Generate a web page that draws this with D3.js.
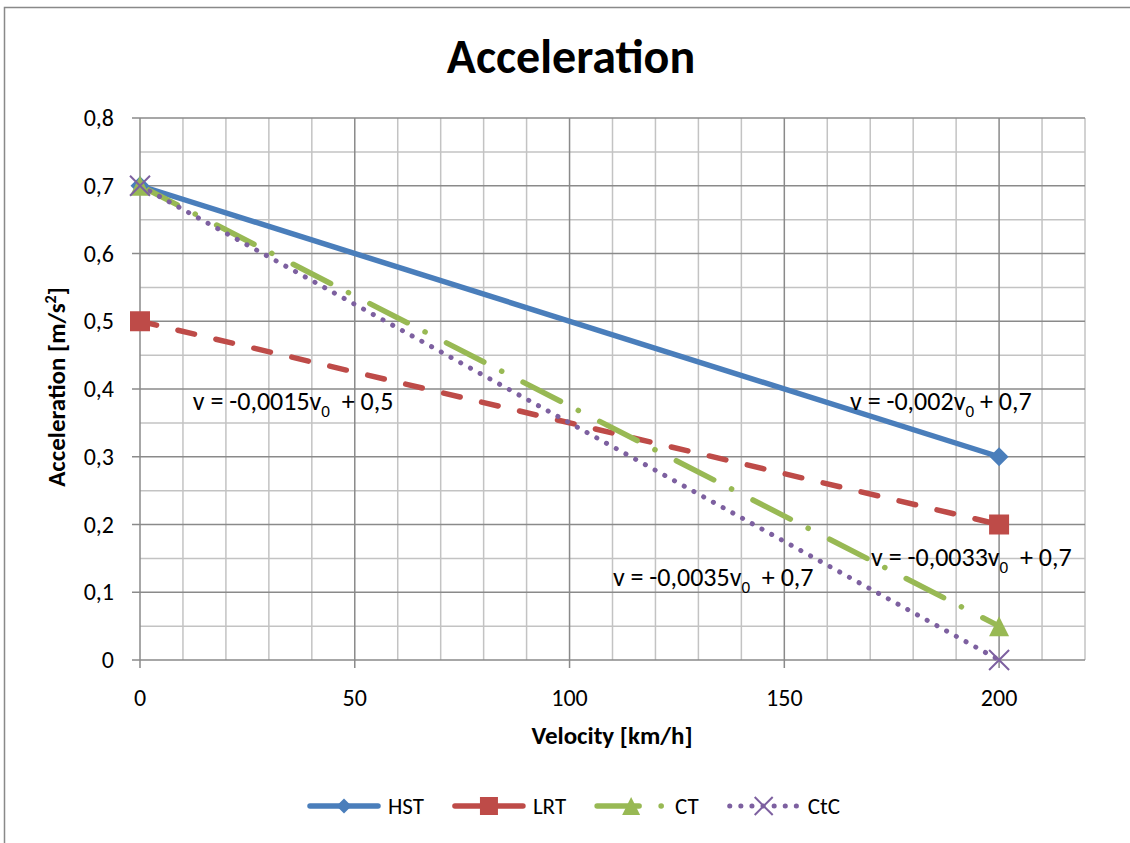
<!DOCTYPE html>
<html>
  <head>
    <meta charset="utf-8">
    <title>Acceleration</title>
    <style>
      body { margin: 0; background: #fff; }
      svg { display: block; font-family: "Carlito", "Lato", sans-serif; }
      .tick-label { font-size: 24px; fill: #000; }
      .axis-title { font-size: 25px; font-weight: bold; fill: #000; }
      .ann { font-size: 26px; fill: #000; }
      .legend-label { font-size: 23px; fill: #000; }
    </style>
  </head>
  <body>
    <div id="chart"></div>
    <script src="https://cdn.jsdelivr.net/npm/d3@7/dist/d3.min.js"></script>
    <script>
    var width = 1130;
    var height = 843;

    // data
    var velocity = [0, 200];
    var hst = [0.7, 0.3];
    var lrt = [0.5, 0.2];
    var ct = [0.7, 0.05];
    var ctc = [0.7, 0];
    var seriesNames = ["HST", "LRT", "CT", "CtC"];
    var xTicks = [0, 50, 100, 150, 200];
    var yTicks = [0, 0.1, 0.2, 0.3, 0.4, 0.5, 0.6, 0.7, 0.8];
    var equations = [
      { pre: "v = -0,002v", post: " + 0,7", x: 165.3, y: 0.369 },
      { pre: "v = -0,0015v", post: "  + 0,5", x: 12.3, y: 0.369 },
      { pre: "v = -0,0033v", post: "  + 0,7", x: 170.2, y: 0.139 },
      { pre: "v = -0,0035v", post: "  + 0,7", x: 110.1, y: 0.109 }
    ];

    var styles = {
      HST: { color: "#4a7ebb", dash: null, w: 5.5, marker: "diamond", ms: 19, legDash: null },
      LRT: { color: "#be4b48", dash: "17,22", w: 5.5, marker: "square", ms: 20, legDash: null },
      CT:  { color: "#98b954", dash: "42,20,0.1,24", w: 5.5, marker: "triangle", ms: 20, legDash: "42,22,0.1,40" },
      CtC: { color: "#7d60a0", dash: "0.1,11", w: 5, marker: "cross", ms: 20, legDash: "0.1,11" }
    };
    var seriesValues = { HST: hst, LRT: lrt, CT: ct, CtC: ctc };

    var svg = d3.select("#chart").append("svg")
        .attr("width", width)
        .attr("height", height);

    // outer chart frame (runs off the right and bottom edge)
    svg.append("rect")
        .attr("x", 4.5).attr("y", 7.5)
        .attr("width", 1300).attr("height", 1000)
        .attr("fill", "none").attr("stroke", "#898989").attr("stroke-width", 1.5);

    var x = d3.scaleLinear().domain([0, 220]).range([140, 1085]);
    var y = d3.scaleLinear().domain([0, 0.8]).range([660, 118]);

    // grid
    var grid = svg.append("g");
    grid.selectAll(".minor-y")
        .data(d3.range(0.05, 0.8, 0.1))
        .enter().append("line")
        .attr("x1", x(0)).attr("x2", x(220))
        .attr("y1", function(d) { return y(d); })
        .attr("y2", function(d) { return y(d); })
        .attr("stroke", "#c3c3c3").attr("stroke-width", 1.5);
    grid.selectAll(".minor-x")
        .data(d3.range(10, 221, 10).filter(function(d) { return d % 50 !== 0; }))
        .enter().append("line")
        .attr("y1", y(0)).attr("y2", y(0.8))
        .attr("x1", function(d) { return x(d); })
        .attr("x2", function(d) { return x(d); })
        .attr("stroke", "#c3c3c3").attr("stroke-width", 1.5);
    grid.selectAll(".major-y")
        .data(yTicks)
        .enter().append("line")
        .attr("x1", x(0) - 8).attr("x2", x(220))
        .attr("y1", function(d) { return y(d); })
        .attr("y2", function(d) { return y(d); })
        .attr("stroke", "#8a8a8a").attr("stroke-width", 1.5);
    grid.selectAll(".major-x")
        .data(xTicks)
        .enter().append("line")
        .attr("y1", y(0) + 8).attr("y2", y(0.8))
        .attr("x1", function(d) { return x(d); })
        .attr("x2", function(d) { return x(d); })
        .attr("stroke", "#8a8a8a").attr("stroke-width", 1.5);

    // tick labels
    svg.selectAll(".ylab")
        .data(yTicks)
        .enter().append("text")
        .attr("class", "tick-label")
        .attr("x", x(0) - 26)
        .attr("y", function(d) { return y(d) + 8; })
        .attr("text-anchor", "end")
        .text(function(d) { return d === 0 ? "0" : d3.format(".1f")(d).replace(".", ","); });

    svg.selectAll(".xlab")
        .data(xTicks)
        .enter().append("text")
        .attr("class", "tick-label")
        .attr("x", function(d) { return x(d); })
        .attr("y", 706)
        .attr("text-anchor", "middle")
        .text(function(d) { return d; });

    // titles
    svg.append("text")
        .attr("x", 571).attr("y", 73)
        .attr("text-anchor", "middle")
        .style("font-size", "48px").style("font-weight", "bold")
        .text("Acceleration");

    svg.append("text")
        .attr("class", "axis-title")
        .attr("x", 612).attr("y", 744)
        .attr("text-anchor", "middle")
        .text("Velocity [km/h]");

    var yt = svg.append("text")
        .attr("class", "axis-title")
        .attr("transform", "translate(65," + (y(0.4) - 2) + ") rotate(-90)")
        .attr("text-anchor", "middle");
    yt.append("tspan").text("Acceleration [m/s");
    yt.append("tspan").attr("dy", -9).style("font-size", "16px").text("2");
    yt.append("tspan").attr("dy", 9).text("]");

    // marker shapes
    function markerPath(type, s) {
      var h = s / 2;
      if (type === "diamond") return "M0," + (-h) + "L" + h + ",0L0," + h + "L" + (-h) + ",0Z";
      if (type === "square") return "M" + (-h) + "," + (-h) + "h" + s + "v" + s + "h" + (-s) + "Z";
      if (type === "triangle") return "M0," + (-h) + "L" + h + "," + h + "L" + (-h) + "," + h + "Z";
      return "M" + (-h) + "," + (-h) + "L" + h + "," + h + "M" + h + "," + (-h) + "L" + (-h) + "," + h;
    }
    function drawMarker(g, name, cx, cy, s) {
      var st = styles[name];
      var p = g.append("path")
          .attr("d", markerPath(st.marker, s))
          .attr("transform", "translate(" + cx + "," + cy + ")");
      if (st.marker === "cross") {
        p.attr("fill", "none").attr("stroke", st.color).attr("stroke-width", 2);
      } else {
        p.attr("fill", st.color);
      }
    }

    // series lines
    var line = d3.line()
        .x(function(d) { return x(d[0]); })
        .y(function(d) { return y(d[1]); });

    var plot = svg.append("g");
    seriesNames.forEach(function(name) {
      var st = styles[name];
      var pts = velocity.map(function(v, i) { return [v, seriesValues[name][i]]; });
      plot.append("path")
          .datum(pts)
          .attr("d", line)
          .attr("fill", "none")
          .attr("stroke", st.color)
          .attr("stroke-width", st.w)
          .attr("stroke-linecap", st.dash ? "round" : "butt")
          .attr("stroke-dasharray", st.dash);
    });
    seriesNames.forEach(function(name) {
      velocity.forEach(function(v, i) {
        drawMarker(plot, name, x(v), y(seriesValues[name][i]), styles[name].ms);
      });
    });

    // equation labels
    equations.forEach(function(e) {
      var t = svg.append("text")
          .attr("class", "ann")
          .attr("x", x(e.x))
          .attr("y", y(e.y))
          .attr("xml:space", "preserve");
      t.append("tspan").text(e.pre);
      t.append("tspan").attr("dy", 7).style("font-size", "17px").text("0");
      t.append("tspan").attr("dy", -7).text(e.post);
    });

    // legend
    var legend = svg.append("g");
    var lx = 310;
    var ly = 806;
    var segLen = 68;
    seriesNames.forEach(function(name) {
      var st = styles[name];
      legend.append("line")
          .attr("x1", lx).attr("x2", lx + segLen)
          .attr("y1", ly).attr("y2", ly)
          .attr("stroke", st.color)
          .attr("stroke-width", st.w)
          .attr("stroke-linecap", "round")
          .attr("stroke-dasharray", st.legDash);
      drawMarker(legend, name, lx + segLen / 2, ly, name === "HST" ? 15 : 18);
      var lab = legend.append("text")
          .attr("class", "legend-label")
          .attr("x", lx + segLen + 10)
          .attr("y", ly + 8)
          .text(name);
      lx += segLen + 10 + lab.node().getComputedTextLength() + 31;
    });
    </script>
  </body>
</html>
